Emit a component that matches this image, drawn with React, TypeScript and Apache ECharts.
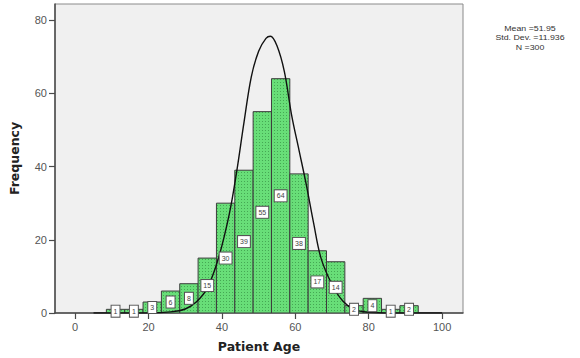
import React, { useEffect, useRef } from "react";
import * as echarts from "echarts";

// Histogram bins (Patient Age) and frequencies
const binLower = [8.5, 13.5, 18.5, 23.5, 28.5, 33.5, 38.5, 43.5, 48.5, 53.5, 58.5, 63.5, 68.5, 73.5, 78.5, 83.5, 88.5];
const binUpper = [13.5, 18.5, 23.5, 28.5, 33.5, 38.5, 43.5, 48.5, 53.5, 58.5, 63.5, 68.5, 73.5, 78.5, 83.5, 88.5, 93.5];
const counts = [1, 1, 3, 6, 8, 15, 30, 39, 55, 64, 38, 17, 14, 2, 4, 1, 2];

// Normal curve
const curveAge = [5, 20, 26, 30, 33, 36, 39, 42, 44, 46, 48, 50, 52, 53.2, 55, 57, 59, 61, 63, 65, 67, 70, 73, 76, 80, 86, 100];
const curveFreq = [0, 0, 0.3, 1.1, 3, 6.8, 14.8, 27, 38.5, 52, 64.5, 71.5, 75, 75.6, 73, 66, 54, 44.5, 35, 24.5, 15, 7.8, 3.2, 1, 0.2, 0, 0];

const xTicks = [0, 20, 40, 60, 80, 100];
const statsLines = ["Mean =51.95", "Std. Dev. =11.936", "N =300"];

function makePattern(): HTMLCanvasElement {
  const c = document.createElement("canvas");
  c.width = 3;
  c.height = 3;
  const ctx = c.getContext("2d")!;
  ctx.fillStyle = "#68de78";
  ctx.fillRect(0, 0, 3, 3);
  ctx.fillStyle = "#45a853";
  ctx.fillRect(1, 1, 1, 1);
  return c;
}

export default function App() {
  const ref = useRef<HTMLDivElement>(null);
  useEffect(() => {
    if (!ref.current) return;
    const chart = echarts.init(ref.current, undefined, { renderer: "svg" });
    const pattern = makePattern();
    const barData = counts.map((c, i) => [binLower[i], binUpper[i], c]);
    const curveData = curveAge.map((a, i) => [a, curveFreq[i]]);
    const font = "Liberation Sans";

    const option: any = {
      animation: false,
      backgroundColor: "#ffffff",
      grid: {
        left: 50,
        top: 4,
        right: 117,
        bottom: 44,
        show: true,
        backgroundColor: "#f0f0f0",
        borderColor: "#8a8a8a",
        borderWidth: 1,
      },
      xAxis: {
        type: "value",
        min: -5.5,
        max: 105.7,
        name: "Patient Age",
        nameLocation: "middle",
        nameGap: 27,
        nameTextStyle: { fontFamily: "DejaVu Sans", fontWeight: "bold", fontSize: 12.5, color: "#222" },
        axisLine: { show: true, onZero: false, lineStyle: { color: "#4a4a4a", width: 1.5 } },
        axisTick: { show: true, length: 6, customValues: xTicks, lineStyle: { color: "#4a4a4a", width: 1.2 } },
        axisLabel: { customValues: xTicks, margin: 8, fontFamily: font, fontSize: 11, color: "#555" },
        splitLine: { show: false },
      },
      yAxis: {
        type: "value",
        min: 0,
        max: 84.4,
        interval: 20,
        name: "Frequency",
        nameLocation: "middle",
        nameGap: 34,
        nameTextStyle: { fontFamily: "DejaVu Sans", fontWeight: "bold", fontSize: 12.5, color: "#222" },
        axisLine: { show: true, onZero: false, lineStyle: { color: "#4a4a4a", width: 1.5 } },
        axisTick: { show: true, length: 6, lineStyle: { color: "#4a4a4a", width: 1.2 } },
        axisLabel: { margin: 8, fontFamily: font, fontSize: 11, color: "#555", showMaxLabel: false },
        splitLine: { show: false },
      },
      graphic: [
        {
          type: "text",
          x: 530,
          y: 37.5,
          scaleX: 1.1,
          z: 10,
          style: {
            text: statsLines.join("\n"),
            align: "center",
            verticalAlign: "middle",
            font: "8px 'Liberation Sans'",
            lineHeight: 9.5,
            fill: "#333",
          },
        },
      ],
      series: [
        {
          type: "custom",
          z: 2,
          clip: true,
          encode: { x: [0, 1], y: 2 },
          data: barData,
          renderItem: (params: any, api: any) => {
            const p0 = api.coord([api.value(0), api.value(2)]);
            const p1 = api.coord([api.value(1), 0]);
            return {
              type: "rect",
              shape: { x: p0[0], y: p0[1], width: p1[0] - p0[0], height: p1[1] - p0[1] },
              style: {
                fill: { image: pattern, repeat: "repeat", imageWidth: 3, imageHeight: 3 },
                stroke: "#3d3d3d",
                lineWidth: 1,
              },
            };
          },
        },
        {
          type: "line",
          z: 3,
          data: curveData,
          smooth: 0.35,
          showSymbol: false,
          symbol: "none",
          lineStyle: { color: "#111", width: 1.4 },
          silent: true,
        },
        {
          type: "custom",
          z: 4,
          clip: false,
          encode: { x: [0, 1], y: 2 },
          data: barData,
          renderItem: (params: any, api: any) => {
            const lo = api.value(0);
            const hi = api.value(1);
            const c = api.value(2);
            const p = api.coord([(lo + hi) / 2, c / 2]);
            return {
              type: "text",
              style: {
                text: String(c),
                x: p[0],
                y: p[1],
                align: "center",
                verticalAlign: "middle",
                fill: "#444",
                fontSize: 7,
                fontFamily: font,
                backgroundColor: "#ffffff",
                borderColor: "#555",
                borderWidth: 1,
                padding: [2, 2, 2, 2],
              },
            };
          },
        },
      ],
    };
    chart.setOption(option);
    return () => chart.dispose();
  }, []);
  return (
    <div
      ref={ref}
      style={{ position: "fixed", left: 0, top: 0, width: 580, height: 358, background: "#fff" }}
    />
  );
}
